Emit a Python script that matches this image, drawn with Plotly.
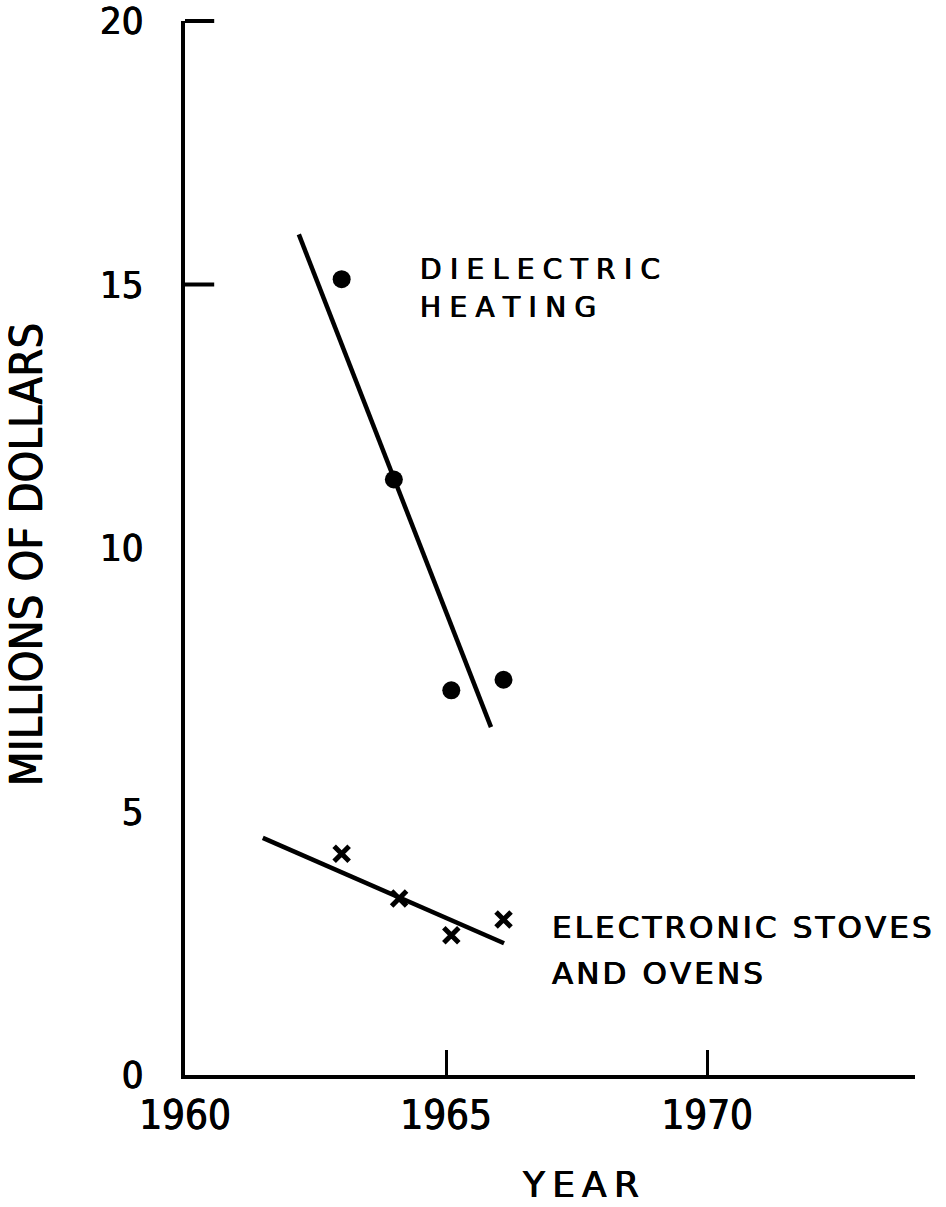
import plotly.graph_objects as go

# ---- data ----
diel_years = [1963, 1964, 1965.1, 1966.1]
diel_values = [15.1, 11.3, 7.3, 7.5]
diel_fit_years = [1962.18, 1965.86]
diel_fit_values = [15.95, 6.6]

stove_years = [1963, 1964.1, 1965.1, 1966.1]
stove_values = [4.2, 3.35, 2.65, 2.95]
stove_fit_years = [1961.49, 1966.11]
stove_fit_values = [4.5, 2.5]

x_ticks = [1960, 1965, 1970]
y_ticks = [0, 5, 10, 15, 20]
y_tick_marks = [15, 20]

X_RANGE = [1960, 1973.98]
Y_RANGE = [0, 20.0]

NARROW = "Liberation Sans Narrow, DejaVu Sans Condensed, Arial Narrow, sans-serif"
WIDE = "DejaVu Sans, Verdana, sans-serif"
THICK = "0.5px 0 0 black, -0.5px 0 0 black"


def spaced(s, sep):
    return sep.join(list(s))


fig = go.Figure()

fig.add_trace(go.Scatter(x=diel_fit_years, y=diel_fit_values, mode="lines",
                         line=dict(color="black", width=4.5), showlegend=False))
fig.add_trace(go.Scatter(x=stove_fit_years, y=stove_fit_values, mode="lines",
                         line=dict(color="black", width=4.5), showlegend=False))
fig.add_trace(go.Scatter(x=diel_years, y=diel_values, mode="markers",
                         marker=dict(symbol="circle", size=18, color="black"),
                         showlegend=False))
fig.add_trace(go.Scatter(x=stove_years, y=stove_values, mode="markers",
                         marker=dict(symbol="x-thin-open", size=15, color="black",
                                     line=dict(color="black", width=5)),
                         showlegend=False))

# short inward tick marks on the value axis (paper refs so they are not clipped)
for v in y_tick_marks:
    yp = (v - Y_RANGE[0]) / (Y_RANGE[1] - Y_RANGE[0])
    fig.add_shape(type="line", xref="paper", yref="paper", x0=0, x1=0.04, y0=yp, y1=yp,
                  line=dict(color="black", width=4))

SP_WIDE = "\u2009\u200a"
SP_NARROW = "\u200a"
annots = [
    dict(text=spaced("DIELECTRIC", SP_WIDE), x=1964.46, y=15.29, size=28),
    dict(text=spaced("HEATING", SP_WIDE), x=1964.46, y=14.57, size=28),
    dict(text=spaced("ELECTRONIC STOVES", SP_NARROW), x=1966.99, y=2.80, size=31),
    dict(text=spaced("AND OVENS", SP_NARROW), x=1966.99, y=1.93, size=31),
]
for a in annots:
    fig.add_annotation(text=a["text"], x=a["x"], y=a["y"], xref="x", yref="y",
                       xanchor="left", yanchor="middle", showarrow=False,
                       font=dict(family=WIDE, size=a["size"], color="black",
                                 shadow=THICK))

fig.add_annotation(text=spaced("YEAR", "\u2009"), x=0.542, y=-0.104, xref="paper",
                   yref="paper", xanchor="center", yanchor="middle", showarrow=False,
                   font=dict(family=WIDE, size=36, color="black", shadow=THICK))
fig.add_annotation(text="MILLIONS OF DOLLARS", x=-0.218, y=0.494, xref="paper",
                   yref="paper", xanchor="center", yanchor="middle", showarrow=False,
                   textangle=-90,
                   font=dict(family=NARROW, size=45, color="black", shadow=THICK))

fig.update_layout(
    width=946, height=1207,
    margin=dict(l=185, r=31, t=21, b=132, autoexpand=False),
    paper_bgcolor="white", plot_bgcolor="white",
    xaxis=dict(range=X_RANGE, tickvals=x_ticks, ticktext=[str(t) for t in x_ticks],
               showgrid=False, zeroline=False, showline=True, linecolor="black",
               linewidth=4, ticks="inside", ticklen=25, tickwidth=3, tickcolor="black",
               ticklabelstandoff=2, ticklabeloverflow="allow", automargin=False,
               tickfont=dict(family=NARROW, size=40, color="black", shadow=THICK)),
    yaxis=dict(range=Y_RANGE, tickvals=y_ticks, ticktext=[str(t) for t in y_ticks],
               showgrid=False, zeroline=False, showline=True, linecolor="black",
               linewidth=4, ticks="", ticklabelstandoff=30, ticklabeloverflow="allow",
               automargin=False,
               tickfont=dict(family=NARROW, size=38, color="black", shadow=THICK)),
)

fig.write_html("out.html")
